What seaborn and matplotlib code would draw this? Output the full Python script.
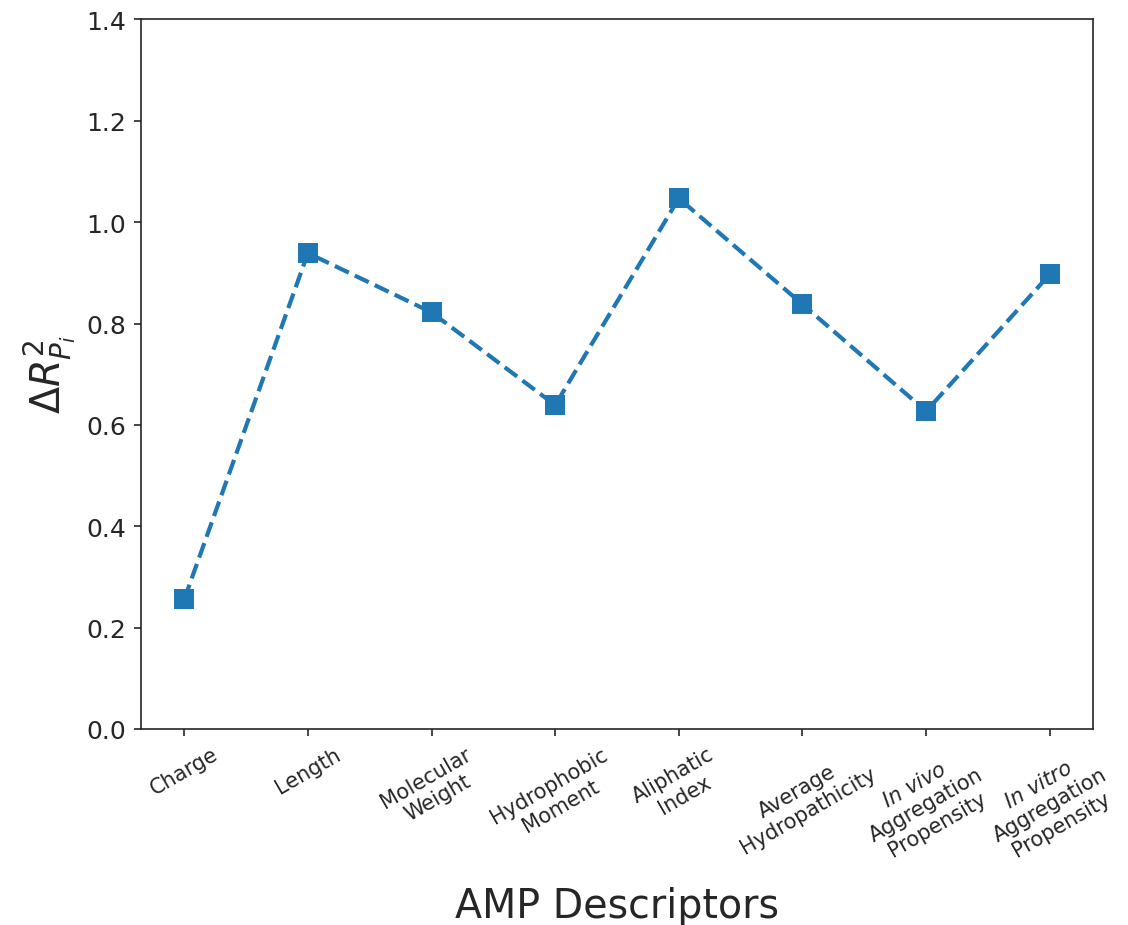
import numpy as np
import pandas as pd
import seaborn as sns
import matplotlib.pyplot as plt

descriptors = ['Charge', 'Length', 'Molecular\nWeight', 'Hydrophobic\nMoment',
               'Aliphatic\nIndex', 'Average\nHydropathicity',
               '$\\it{In\\ vivo}$\nAggregation\nPropensity',
               '$\\it{In\\ vitro}$\nAggregation\nPropensity']
delta_r2 = [0.256, 0.939, 0.822, 0.639, 1.047, 0.838, 0.627, 0.897]

sns.set_style('ticks')

df = pd.DataFrame({'pos': np.arange(len(delta_r2)), 'delta': delta_r2})

fig, ax = plt.subplots(figsize=(7.52, 6.173), dpi=150)
fig.subplots_adjust(left=0.125, right=0.969, top=0.978, bottom=0.2117)

sns.lineplot(data=df, x='pos', y='delta', ax=ax, color='#1f77b4',
             marker='s', markersize=9.5, markeredgewidth=0, linestyle='--', linewidth=2)

ax.set_ylim(0, 1.4)
ax.set_xticks(df['pos'])
ax.set_xticklabels(descriptors, rotation=30, ha='center', fontsize=10)
ax.tick_params(axis='y', labelsize=12)
ax.set_xlabel('AMP Descriptors', fontsize=19, labelpad=10)
ax.set_ylabel(r'$\Delta R^2_{P_i}$', fontsize=19)

fig.savefig('out.png', dpi=150)
